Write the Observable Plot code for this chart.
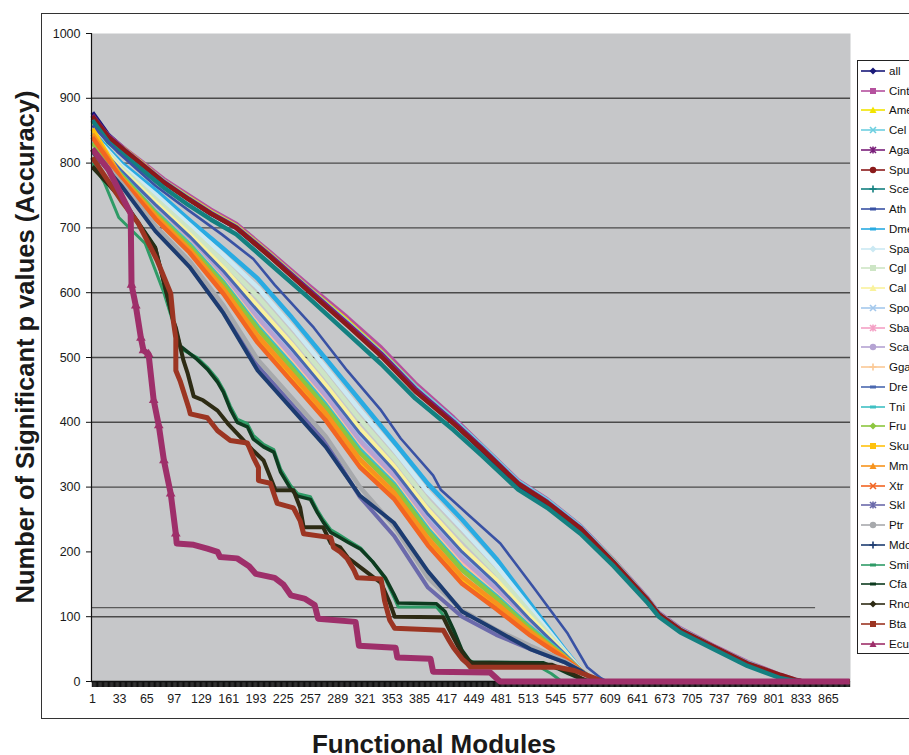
<!DOCTYPE html>
<html><head><meta charset="utf-8">
<script src="https://cdn.jsdelivr.net/npm/d3@7"></script>
<script src="https://cdn.jsdelivr.net/npm/@observablehq/plot@0.6"></script>
<style>
html,body{margin:0;padding:0;background:#fff;overflow:hidden;width:909px;height:755px;}
#wrap{position:relative;width:909px;height:755px;font-family:"Liberation Sans",Arial,sans-serif;color:#111;overflow:hidden;}
#chart{position:absolute;left:0;top:0;}
#border{position:absolute;left:41px;top:13px;width:920px;height:704px;border:1.5px solid #333;pointer-events:none;}
#ytitle{position:absolute;left:25px;top:347px;transform:translate(-50%,-50%) rotate(-90deg);white-space:nowrap;font-weight:bold;font-size:25.5px;color:#1a1a1a;}
#xtitle{position:absolute;left:434px;top:744px;transform:translate(-50%,-50%);white-space:nowrap;font-weight:bold;font-size:26px;color:#1a1a1a;}
#legend{position:absolute;left:857px;top:60px;width:120px;height:592px;border:1px solid #222;background:#fff;}
.row{height:19.76px;display:flex;align-items:center;white-space:nowrap;font-size:11.5px;}
.row svg{margin-left:2px;margin-right:3px;flex:none;}
</style>
</head><body>
<div id="wrap">
  <div id="chart"></div>
  <div id="border"></div>
  <div id="legend"></div>
  <div id="ytitle">Number of Significant p values (Accuracy)</div>
  <div id="xtitle">Functional Modules</div>
</div>
<script>
// ---------- axis values ----------
const xTickLabels = [1,33,65,97,129,161,193,225,257,289,321,353,385,417,449,481,513,545,577,609,641,673,705,737,769,801,833,865];
const yTicks = [0,100,200,300,400,500,600,700,800,900,1000];
const gridLines = [100,300,400,500,600,700,800,900];
const thresholdLine = [114];
const moduleCount = 890;

// ---------- top bundle (shared module knots) ----------
const topModules = [1,20,40,57,85,114,140,170,210,255,300,340,380,425,457,501,535,574,613,653,666,691,730,770,809,826,835,890];
const all  = [878,843,820,802,771,745,722,700,656,603,552,504,450,399,359,303,272,234,182,124,103,79,53,27,9,2,0,0];
const Cint = [870,842,821,804,775,750,728,706,662,611,562,515,460,407,366,310,281,240,187,128,106,82,55,30,10,3,0,0];
const Ame  = [865,838,820,802,772,747,725,703,659,607,557,509,455,403,363,307,278,238,186,125,103,79,53,27,8,2,0,0];
const Cel  = [868,839,819,801,772,746,724,702,658,606,555,508,455,404,365,309,280,239,186,127,105,81,54,29,9,2,0,0];
const Aga  = [874,841,819,801,771,745,723,701,657,605,553,506,452,401,362,306,277,237,183,124,103,79,53,27,9,2,0,0];
const Spu  = [872,840,818,800,770,744,722,700,655,602,550,502,448,398,360,305,276,236,184,126,104,80,54,28,10,3,0,0];
const Sce  = [866,832,810,792,762,735,713,690,644,592,538,490,437,388,350,296,268,228,178,121,100,76,50,24,5,1,0,0];

// ---------- Ath (own knots) ----------
const Ath = [[1,858],[30,818],[75,765],[114,727],[153,690],[190,652],[215,612],[261,546],[300,480],[339,420],[363,375],[401,318],[410,296],[441,259],[480,213],[519,145],[559,74],[582,22],[598,5],[605,0],[890,0]];

// ---------- middle bundle (shared module knots) ----------
const midModules = [1,35,75,115,155,195,235,275,315,355,395,435,475,515,555,575,590,600,890];
const Dme = [848,800,758,712,668,622,562,498,434,370,305,250,190,120,50,17,2,0,0];
const Spa = [845,796,752,705,658,608,548,484,419,358,292,236,179,113,48,17,2,0,0];
const Cgl = [842,793,745,698,648,594,534,471,405,345,278,222,168,106,46,17,2,0,0];
const Cal = [839,790,739,690,638,579,520,457,390,332,265,207,157,99,44,17,2,0,0];
const Spo = [837,787,734,685,630,568,508,446,378,322,254,196,148,93,42,17,2,0,0];
const Sba = [834,784,729,679,622,557,497,435,366,312,243,185,139,88,41,16,2,0,0];
const Sca = [835,785,732,682,626,562,503,441,372,318,248,190,143,91,42,16,2,0,0];
const Gga = [833,782,726,676,618,551,492,430,360,308,238,179,134,85,40,16,2,0,0];
const Dre = [838,788,736,687,633,572,513,450,383,326,258,200,151,95,43,17,2,0,0];
const Tni = [832,782,725,675,616,548,489,427,358,305,235,176,132,84,40,16,2,0,0];
const Fru = [831,781,723,672,613,544,484,423,353,301,231,172,129,81,39,16,2,0,0];
const Sku = [853,777,716,664,602,528,469,408,337,287,216,156,117,74,37,16,2,0,0];
const Mm  = [845,778,719,667,606,534,475,414,343,292,221,162,121,77,38,16,2,0,0];
const Xtr = [840,776,714,662,598,523,463,403,331,282,210,151,112,71,36,16,2,0,0];
const Skl = [820,767,698,644,573,487,428,369,285,225,145,100,72,50,30,15,2,0,0];
const Ptr = [822,769,703,649,580,497,438,378,300,240,160,110,80,55,32,16,2,0,0];
const Mdo = [818,765,695,640,568,480,421,362,287,245,170,108,79,50,30,16,2,0,0];

// ---------- lower group (own knots) ----------
const Smi = [[1,800],[15,770],[32,716],[63,676],[85,600],[96,553],[104,514],[124,500],[136,485],[148,466],[155,450],[163,425],[171,405],[183,398],[190,380],[202,366],[214,358],[222,328],[234,302],[242,290],[257,285],[265,265],[272,250],[281,234],[289,228],[301,218],[316,206],[330,185],[345,158],[355,130],[360,115],[405,115],[412,104],[428,65],[440,36],[450,28],[520,27],[540,12],[552,0],[890,0]];
const Cfa = [[1,793],[35,747],[75,670],[90,588],[96,557],[104,518],[124,497],[136,482],[148,462],[155,446],[163,420],[171,400],[183,393],[190,374],[202,362],[214,354],[222,323],[234,297],[242,286],[257,281],[265,261],[272,246],[281,230],[289,224],[301,215],[316,204],[330,185],[345,160],[355,135],[360,121],[405,120],[415,108],[425,80],[435,48],[445,30],[530,29],[547,20],[560,12],[573,5],[582,0],[890,0]];
const Rno = [[1,795],[35,745],[75,668],[90,590],[96,557],[99,546],[108,495],[113,475],[120,440],[131,434],[148,418],[160,398],[175,377],[190,356],[202,341],[210,315],[216,295],[237,295],[245,268],[249,238],[272,238],[281,213],[292,207],[301,191],[320,172],[340,152],[350,122],[356,100],[413,99],[420,80],[430,55],[440,35],[447,28],[540,26],[560,15],[575,5],[585,0],[890,0]];
const Bta = [[1,809],[35,742],[55,707],[77,650],[93,599],[96,557],[99,530],[99,480],[104,464],[114,423],[116,413],[136,407],[148,387],[163,372],[183,368],[190,346],[196,330],[196,310],[210,306],[214,290],[218,275],[237,268],[245,248],[249,228],[281,222],[284,207],[292,200],[300,190],[308,172],[312,160],[340,158],[344,125],[350,95],[356,82],[413,79],[420,63],[425,52],[435,35],[441,28],[445,22],[547,22],[567,17],[589,6],[600,0],[890,0]];
const Ecu = [[1,822],[20,790],[46,722],[47,612],[52,580],[58,530],[61,511],[67,505],[73,434],[79,395],[85,341],[93,290],[99,228],[100,213],[120,211],[136,205],[148,200],[151,192],[171,190],[185,178],[193,166],[215,160],[225,150],[234,133],[250,128],[262,118],[266,97],[310,92],[314,55],[357,52],[359,37],[398,35],[401,15],[468,14],[477,3],[480,0],[890,0]];

// ---------- series meta ----------
const seriesNames  = ["all","Cint","Ame","Cel","Aga","Spu","Sce","Ath","Dme","Spa","Cgl","Cal","Spo","Sba","Sca","Gga","Dre","Tni","Fru","Sku","Mm","Xtr","Skl","Ptr","Mdo","Smi","Cfa","Rno","Bta","Ecu"];
const seriesColors = ["#1a1a7a","#b5519e","#f2e400","#6dcfe0","#7a1f7a","#8b1a1a","#138080","#3952a4","#29abe2","#cbe9f3","#cde5c5","#f9f29c","#a4c8ec","#f4a0c5","#b5a3d3","#fbc995","#4a68b0","#3fc0c3","#8dc63f","#ffc20e","#f7941d","#f26522","#6b6aab","#a7a9ac","#1c3b70","#2e9b66","#0d3b1f","#2d2b14","#9c3522","#9e2f6a"];
const seriesMarkers = ["diamond","square","triangle","x","star","circle","plus","dash","dash","diamond","square","triangle","x","star","circle","plus","dash","dash","diamond","square","triangle","x","star","circle","plus","dash","dash","diamond","square","triangle"];
const seriesWidths = [4.5,4.5,4.5,4.5,4.5,4.5,4.5,2.6,4.5,4.5,4.5,4.5,4.5,4.5,4.5,4.5,3,4.5,4.5,4.5,4.5,4.5,4,4.5,4,3,3.5,4,5,6];

const topSeries = {all,Cint,Ame,Cel,Aga,Spu,Sce};
const midSeries = {Dme,Spa,Cgl,Cal,Spo,Sba,Sca,Gga,Dre,Tni,Fru,Sku,Mm,Xtr,Skl,Ptr,Mdo};
const pairSeries = {Ath,Smi,Cfa,Rno,Bta,Ecu};

function rowsFor(name){
  if (topSeries[name]) return topModules.map((m,i)=>({module:m, value:topSeries[name][i]}));
  if (midSeries[name]) return midModules.map((m,i)=>({module:m, value:midSeries[name][i]}));
  return pairSeries[name].map(([m,v])=>({module:m, value:v}));
}

const lineMarks = seriesNames.map((n,i)=>Plot.line(rowsFor(n), {
  x:"module", y:"value", stroke:seriesColors[i], strokeWidth:seriesWidths[i],
  strokeLinejoin:"round", strokeLinecap:"butt"
}));

const ecuRows = rowsFor("Ecu").filter(d=>d.value>215 && d.value<700);

const chart = Plot.plot({
  width:909, height:755,
  marginLeft:91, marginRight:59, marginTop:33, marginBottom:74,
  x:{domain:[0,891]},
  y:{domain:[0,1000]},
  style:{background:"transparent", fontFamily:"'Liberation Sans', Arial, sans-serif", fontSize:"12px", color:"#1a1a1a"},
  marks:[
    Plot.frame({fill:"#c6c7c9", stroke:null}),
    Plot.ruleY(gridLines, {stroke:"#4a4a4a", strokeWidth:1.4}),
    Plot.ruleY(thresholdLine, {x1:0, x2:850, stroke:"#5a5a5a", strokeWidth:1.4}),
    Plot.axisX({ticks:d3.range(1, moduleCount+1), tickSize:6, tickFormat:()=>"", stroke:"#111", strokeWidth:1.1, strokeOpacity:1, label:null}),
    Plot.ruleY([0], {stroke:"#111", strokeWidth:1.5}),
    ...lineMarks,
    Plot.dot(ecuRows, {x:"module", y:"value", symbol:"triangle", r:3.6, fill:"#9e2f6a", stroke:null}),
    Plot.axisX({ticks:xTickLabels, tickSize:0, tickPadding:13, label:null, fontSize:12.5, tickFormat:d=>String(d)}),
    Plot.axisY({ticks:yTicks, tickSize:5, tickPadding:6, label:null, fontSize:12.5, stroke:"#111", tickFormat:d=>String(d)}),
    Plot.ruleX([0], {y1:0, y2:1000, stroke:"#111", strokeWidth:1.2})
  ]
});
document.getElementById("chart").appendChild(chart);

// ---------- legend ----------
function markerSVG(kind, c){
  const cx=13, cy=6;
  let m="";
  switch(kind){
    case "diamond": m=`<path d="M${cx} ${cy-3.5}L${cx+3.5} ${cy}L${cx} ${cy+3.5}L${cx-3.5} ${cy}Z" fill="${c}"/>`; break;
    case "square": m=`<rect x="${cx-3}" y="${cy-3}" width="6" height="6" fill="${c}"/>`; break;
    case "triangle": m=`<path d="M${cx} ${cy-3.5}L${cx+3.5} ${cy+3}L${cx-3.5} ${cy+3}Z" fill="${c}"/>`; break;
    case "x": m=`<path d="M${cx-3} ${cy-3}L${cx+3} ${cy+3}M${cx+3} ${cy-3}L${cx-3} ${cy+3}" stroke="${c}" stroke-width="1.6"/>`; break;
    case "star": m=`<path d="M${cx-3} ${cy-3}L${cx+3} ${cy+3}M${cx+3} ${cy-3}L${cx-3} ${cy+3}M${cx} ${cy-3.5}L${cx} ${cy+3.5}" stroke="${c}" stroke-width="1.6"/>`; break;
    case "circle": m=`<circle cx="${cx}" cy="${cy}" r="3.2" fill="${c}"/>`; break;
    case "plus": m=`<path d="M${cx-3.5} ${cy}L${cx+3.5} ${cy}M${cx} ${cy-3.5}L${cx} ${cy+3.5}" stroke="${c}" stroke-width="1.6"/>`; break;
    case "dash": m=`<path d="M${cx-3} ${cy}L${cx+3} ${cy}" stroke="${c}" stroke-width="3"/>`; break;
  }
  return `<svg width="26" height="12"><line x1="1" y1="${cy}" x2="25" y2="${cy}" stroke="${c}" stroke-width="1.6"/>${m}</svg>`;
}
const leg = document.getElementById("legend");
leg.innerHTML = seriesNames.map((n,i)=>`<div class="row">${markerSVG(seriesMarkers[i], seriesColors[i])}<span>${n}</span></div>`).join("");
</script>
</body></html>
